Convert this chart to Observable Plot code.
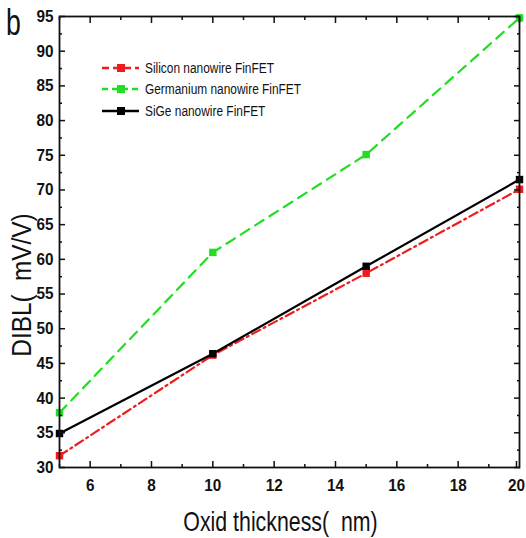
<!DOCTYPE html>
<html><head><meta charset="utf-8">
<script src="https://cdn.jsdelivr.net/npm/d3@7"></script>
<script src="https://cdn.jsdelivr.net/npm/@observablehq/plot@0.6"></script>
<style>
body{margin:0;background:#fff;}
#wrap{position:relative;width:526px;height:538px;overflow:hidden;font-family:"Liberation Sans",Arial,sans-serif;}
#legend{position:absolute;left:102px;top:57px;font-size:14px;color:#111;}
#legend .row{display:flex;align-items:center;height:21.5px;white-space:nowrap;}
#legend svg{margin-right:6px;flex:none;}
#legend span{display:inline-block;transform:scaleX(0.85);transform-origin:left center;}
#tag{position:absolute;left:6px;top:4px;font-size:37px;line-height:1;transform:scaleX(0.72);transform-origin:left top;color:#111;}
</style></head>
<body><div id="wrap"><div id="tag">b</div><div id="legend"></div></div>
<script>
const thickness = [5, 10, 15, 20];
const silicon = [31.7, 46.2, 58.0, 70.1];
const germanium = [37.9, 61.0, 75.1, 94.8];
const sige = [34.9, 46.4, 59.0, 71.5];
const seriesNames = ["Silicon nanowire FinFET", "Germanium nanowire FinFET", "SiGe nanowire FinFET"];
const seriesColors = ["#ee1c1c", "#22dd22", "#000000"];
const seriesDash = ["9,4,2,4", "10,7", null];
const xTicks = [6, 8, 10, 12, 14, 16, 18];
const xLastTick = [20];
const xMinor = [5, 7, 9, 11, 13, 15, 17, 19];
const yTicks = [30, 35, 40, 45, 50, 55, 60, 65, 70, 75, 80, 85, 90, 95];
const yMinor = [32.5, 37.5, 42.5, 47.5, 52.5, 57.5, 62.5, 67.5, 72.5, 77.5, 82.5, 87.5, 92.5];
const xTitle = "Oxid thickness(\u00a0\u00a0nm)";
const yTitle = "DIBL(\u00a0\u00a0mV/V)";

const values = [silicon, germanium, sige];
const rows = [];
values.forEach((arr, s) => arr.forEach((v, i) => rows.push({series: seriesNames[s], x: thickness[i], y: v})));

const tickFont = {fontFamily: '"Liberation Sans",Arial,sans-serif', fontWeight: "bold", fontSize: 17, fill: "#111", className: "ticklab"};
const ax = {label: null, stroke: "#111", strokeWidth: 1.5};

const marks = [];
seriesNames.forEach((name, s) => {
  const d = rows.filter(r => r.series === name);
  marks.push(Plot.line(d, {x: "x", y: "y", stroke: seriesColors[s], strokeWidth: 2.2, strokeDasharray: seriesDash[s]}));
});
seriesNames.forEach((name, s) => {
  const d = rows.filter(r => r.series === name);
  marks.push(Plot.dot(d, {x: "x", y: "y", symbol: "square", r: 4.2, fill: seriesColors[s], stroke: "none"}));
});
marks.push(
  Plot.axisX(xTicks, {anchor: "bottom", tickSize: -6, tickPadding: 17, ...tickFont, ...ax}),
  Plot.axisX(xLastTick, {anchor: "bottom", tickSize: -6, tickPadding: 17, dx: -3, ...tickFont, ...ax}),
  Plot.axisX(xMinor, {anchor: "bottom", tickSize: -3, text: null, ...ax}),
  Plot.axisX(xTicks.concat(xLastTick), {anchor: "top", tickSize: -6, text: null, ...ax}),
  Plot.axisX(xMinor, {anchor: "top", tickSize: -3, text: null, ...ax}),
  Plot.axisY(yTicks, {anchor: "left", tickSize: -6, tickPadding: 12, ...tickFont, ...ax}),
  Plot.axisY(yMinor, {anchor: "left", tickSize: -3, text: null, ...ax}),
  Plot.axisY(yTicks, {anchor: "right", tickSize: -6, text: null, ...ax}),
  Plot.axisY(yMinor, {anchor: "right", tickSize: -3, text: null, ...ax}),
  Plot.frame({stroke: "#111", strokeWidth: 1.8}),
  Plot.text([xTitle], {frameAnchor: "bottom", textAnchor: "middle", lineAnchor: "middle", dx: -9, dy: 55, fontSize: 27, fill: "#111", className: "xtitle"}),
  Plot.text([yTitle], {frameAnchor: "left", textAnchor: "middle", lineAnchor: "middle", rotate: -90, dx: -37, dy: 43, fontSize: 28, fill: "#111", className: "ytitle"})
);

const chart = Plot.plot({
  width: 526, height: 538,
  marginLeft: 59, marginRight: 7, marginTop: 16, marginBottom: 71,
  x: {domain: [5, 20]},
  y: {domain: [30, 95]},
  style: {fontFamily: '"Liberation Sans",Arial,sans-serif', color: "#111", overflow: "visible"},
  marks
});
chart.style.position = "absolute";
chart.style.left = "0"; chart.style.top = "0";
document.getElementById("wrap").prepend(chart);

// condense glyphs along the text direction, about each text's own anchor
function condense(sel, factor) {
  d3.select(chart).selectAll(sel).each(function () {
    const t = this.getAttribute("transform") || "";
    this.setAttribute("transform", `${t} scale(${factor},1)`);
  });
}
condense(".ticklab text", 0.9);
condense(".xtitle text", 0.79);
condense(".ytitle text", 0.87);

const leg = document.getElementById("legend");
seriesNames.forEach((name, s) => {
  const row = document.createElement("div");
  row.className = "row";
  const dash = seriesDash[s] ? `stroke-dasharray="${s === 0 ? '7,4' : '6,4'}"` : "";
  row.innerHTML = `<svg width="37" height="12"><line x1="0" x2="37" y1="6" y2="6" stroke="${seriesColors[s]}" stroke-width="2.4" ${dash}/><rect x="15" y="2" width="8" height="8" fill="${seriesColors[s]}"/></svg><span>${name}</span>`;
  leg.appendChild(row);
});
</script></body></html>
